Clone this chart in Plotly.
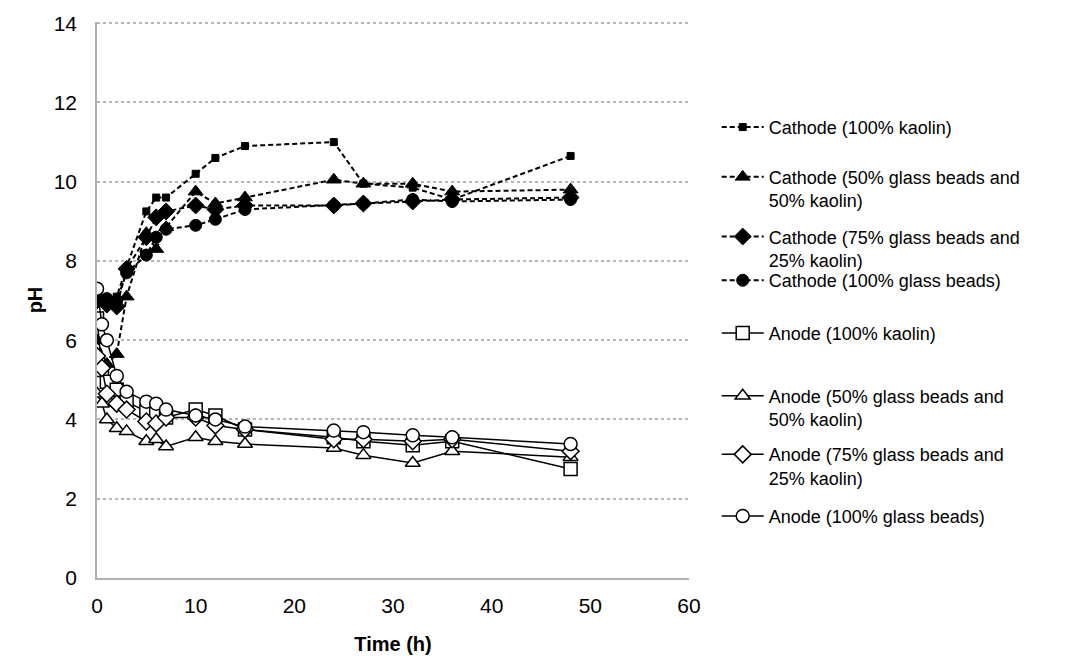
import plotly.graph_objects as go

# ---- data ----
time_cathode = [0, 1, 2, 3, 5, 6, 7, 10, 12, 15, 24, 27, 32, 36, 48]
cathode_kaolin = [7.0, 7.0, 7.1, 7.85, 9.25, 9.6, 9.6, 10.2, 10.6, 10.9, 11.0, 9.95, 9.85, 9.55, 10.65]
cathode_50gb = [6.0, 5.4, 5.65, 7.1, 8.7, 8.3, 8.85, 9.75, 9.45, 9.6, 10.05, 9.95, 9.95, 9.75, 9.8]
cathode_75gb = [7.0, 6.9, 6.85, 7.8, 8.6, 9.1, 9.25, 9.4, 9.3, 9.4, 9.4, 9.45, 9.5, 9.55, 9.6]
cathode_100gb = [7.1, 7.05, 7.0, 7.7, 8.15, 8.6, 8.8, 8.9, 9.05, 9.3, 9.4, 9.45, 9.55, 9.5, 9.55]

time_anode = [0, 0.5, 1, 2, 3, 5, 6, 7, 10, 12, 15, 24, 27, 32, 36, 48]
anode_kaolin = [6.55, 5.25, 4.95, 4.75, 4.45, 4.2, 4.15, 4.05, 4.25, 4.1, 3.75, 3.55, 3.45, 3.35, 3.45, 2.75]
anode_50gb = [4.65, 4.4, 4.0, 3.78, 3.7, 3.45, 3.5, 3.32, 3.55, 3.45, 3.38, 3.28, 3.1, 2.9, 3.2, 3.05]
anode_75gb = [5.6, 5.3, 4.65, 4.4, 4.25, 3.95, 3.9, 4.05, 4.05, 3.85, 3.75, 3.5, 3.5, 3.45, 3.5, 3.2]
anode_100gb = [7.3, 6.4, 6.0, 5.1, 4.7, 4.45, 4.4, 4.25, 4.1, 4.0, 3.82, 3.72, 3.68, 3.6, 3.55, 3.38]

cathode_names = ["Cathode (100% kaolin)",
                 "Cathode (50% glass beads and<br>50% kaolin)",
                 "Cathode (75% glass beads and<br>25% kaolin)",
                 "Cathode (100% glass beads)"]
anode_names = ["Anode (100% kaolin)",
               "Anode (50% glass beads and<br>50% kaolin)",
               "Anode (75% glass beads and<br>25% kaolin)",
               "Anode (100% glass beads)"]

x_ticks = [0, 10, 20, 30, 40, 50, 60]
y_ticks = [0, 2, 4, 6, 8, 10, 12, 14]

FONT = "Liberation Sans, Arial, sans-serif"

# legend placement (paper coords of each legend box top)
legend_tops = [0.8437, 0.7542, 0.6469, 0.5682, 0.4733, 0.3606, 0.2551, 0.1442]

fig = go.Figure()

cathode_series = [cathode_kaolin, cathode_50gb, cathode_75gb, cathode_100gb]
cathode_symbols = ["square", "triangle-up", "diamond", "circle"]
cathode_sizes = [7, 13, 13, 12]
k = 0
for vals, sym, sz, name in zip(cathode_series, cathode_symbols, cathode_sizes, cathode_names):
    k += 1
    fig.add_trace(go.Scatter(
        x=time_cathode, y=vals, name=name, mode="lines+markers",
        line=dict(color="black", width=2, dash="5px,3px"),
        marker=dict(symbol=sym, size=sz, color="black", line=dict(color="black", width=1)),
        legend="legend" if k == 1 else "legend%d" % k,
    ))

anode_series = [anode_kaolin, anode_50gb, anode_75gb, anode_100gb]
anode_symbols = ["square", "triangle-up", "diamond", "circle"]
for vals, sym, name in zip(anode_series, anode_symbols, anode_names):
    k += 1
    fig.add_trace(go.Scatter(
        x=time_anode, y=vals, name=name, mode="lines+markers",
        line=dict(color="black", width=1.5),
        marker=dict(symbol=sym, size=13, color="white", line=dict(color="black", width=1.5)),
        legend="legend%d" % k,
    ))

legend_layout = {}
for i, yt in enumerate(legend_tops):
    key = "legend" if i == 0 else "legend%d" % (i + 1)
    legend_layout[key] = dict(
        x=1.0468, y=yt, xanchor="left", yanchor="top",
        font=dict(family=FONT, size=18, color="black"),
        itemwidth=42, valign="top",
        bgcolor="rgba(0,0,0,0)",
    )

fig.update_layout(
    width=1075, height=664,
    margin=dict(l=97, r=386, t=22, b=83),
    plot_bgcolor="white", paper_bgcolor="white",
    font=dict(family=FONT, color="black"),
    showlegend=True,
    xaxis=dict(
        range=[0, 60], tickvals=x_ticks, showgrid=False,
        showline=True, linecolor="#b0b0b0", linewidth=1.5,
        zeroline=False, ticks="",
        tickfont=dict(size=21, family=FONT),
        title=dict(text="<b>Time (h)</b>", font=dict(size=20, family=FONT), standoff=21),
        ticklabelstandoff=8,
    ),
    yaxis=dict(
        range=[0, 14.03], tickvals=y_ticks,
        showgrid=True, gridcolor="#b5b5b5", griddash="dot", gridwidth=1.5,
        showline=True, linecolor="#b0b0b0", linewidth=1.5,
        zeroline=False, ticks="",
        tickfont=dict(size=21, family=FONT),
        title=dict(text="<b>pH</b>", font=dict(size=20, family=FONT), standoff=6),
        ticklabelstandoff=14,
    ),
    **legend_layout,
)

fig.write_html("out.html")
